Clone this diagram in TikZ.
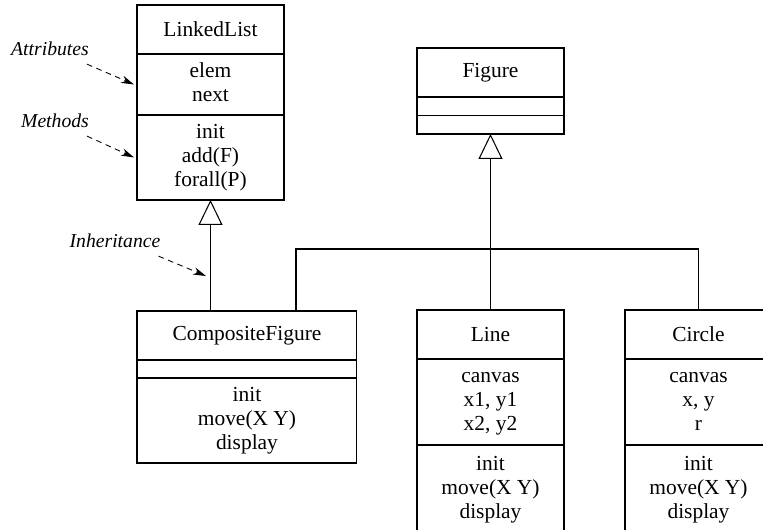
\documentclass[tikz,border=0pt]{standalone}
\usepackage{fontspec}
\setmainfont{Liberation Serif}
\usetikzlibrary{positioning, arrows.meta, calc}

\begin{document}
\begin{tikzpicture}[
        x=0.02cm, y=-0.02cm,
        font=\fontsize{12.2}{13.7}\selectfont,
        cls/.style={draw, line width=0.6pt, outer sep=0pt, inner sep=0pt, minimum width=#1, align=center},
        cls/.default=2.94cm,
        ttl/.style={cls=#1, minimum height=0.98cm},
        ttl/.default=2.94cm,
        lbl/.style={font=\fontsize{11.2}{13}\selectfont\itshape},
        gen/.style={-{Triangle[open, length=0.5cm, width=0.48cm]}, line width=0.6pt},
        wire/.style={line width=0.6pt},
        note/.style={-{Stealth[length=0.26cm, width=0.15cm]}, dashed, dash pattern=on 3.2pt off 2.6pt, line width=0.5pt},
    ]
    \useasboundingbox (0,0) rectangle (763,529);
    \clip (0,0) rectangle (763,529);

    % LinkedList
    \node[ttl, anchor=north west] (ll) at (137,5) {LinkedList};
    \node[cls, minimum height=1.22cm, below=0pt of ll] (llattr) {\strut elem\\next\strut};
    \node[cls, minimum height=1.7cm, below=0pt of llattr] (llmeth) {\strut init\\add(F)\\forall(P)\strut};

    % Figure
    \node[ttl, anchor=north west] (fig) at (417,48) {Figure};
    \node[cls, minimum height=0.37cm, below=0pt of fig] (figattr) {};
    \node[cls, minimum height=0.37cm, below=0pt of figattr] (figmeth) {};

    % CompositeFigure
    \node[ttl=4.4cm, anchor=north west] (cf) at (137,311) {CompositeFigure};
    \node[cls=4.4cm, minimum height=0.36cm, below=0pt of cf] (cfattr) {};
    \node[cls=4.4cm, minimum height=1.7cm, below=0pt of cfattr] (cfmeth) {\strut init\\move(X Y)\\display\strut};

    % Line
    \node[ttl, anchor=north west] (line) at (417,310) {Line};
    \node[cls, minimum height=1.72cm, below=0pt of line] (lineattr) {\strut canvas\\x1, y1\\x2, y2\strut};
    \node[cls, minimum height=1.8cm, below=0pt of lineattr] (linemeth) {\strut init\\move(X Y)\\display\strut};

    % Circle
    \node[ttl, anchor=north west] (circ) at (625,310) {Circle};
    \node[cls, minimum height=1.72cm, below=0pt of circ] (circattr) {\strut canvas\\x, y\\r\strut};
    \node[cls, minimum height=1.8cm, below=0pt of circattr] (circmeth) {\strut init\\move(X Y)\\display\strut};

    % Inheritance
    \draw[gen] (cf.north -| llmeth.south) -- (llmeth.south);
    \draw[gen] (line.north) -- (figmeth.south);
    \coordinate (bus) at (296,249);
    \draw[wire] (bus |- cf.north) -- (bus) -| (circ.north);

    % Annotations
    \node[lbl] (attrlbl) at (50,49) {Attributes};
    \node[lbl] (methlbl) at (55,121) {Methods};
    \node[lbl] (inhlbl) at (115,241) {Inheritance};
    \coordinate (inhpt) at (206,276);
    \draw[note] ($(attrlbl.south east)+(-8,2)$) -- ([xshift=-0.06cm]llattr.west);
    \draw[note] ($(methlbl.south east)+(-8,2)$) -- ([xshift=-0.06cm]llmeth.west);
    \draw[note] ($(inhlbl.south east)+(-8,2)$) -- (inhpt);
\end{tikzpicture}
\end{document}
